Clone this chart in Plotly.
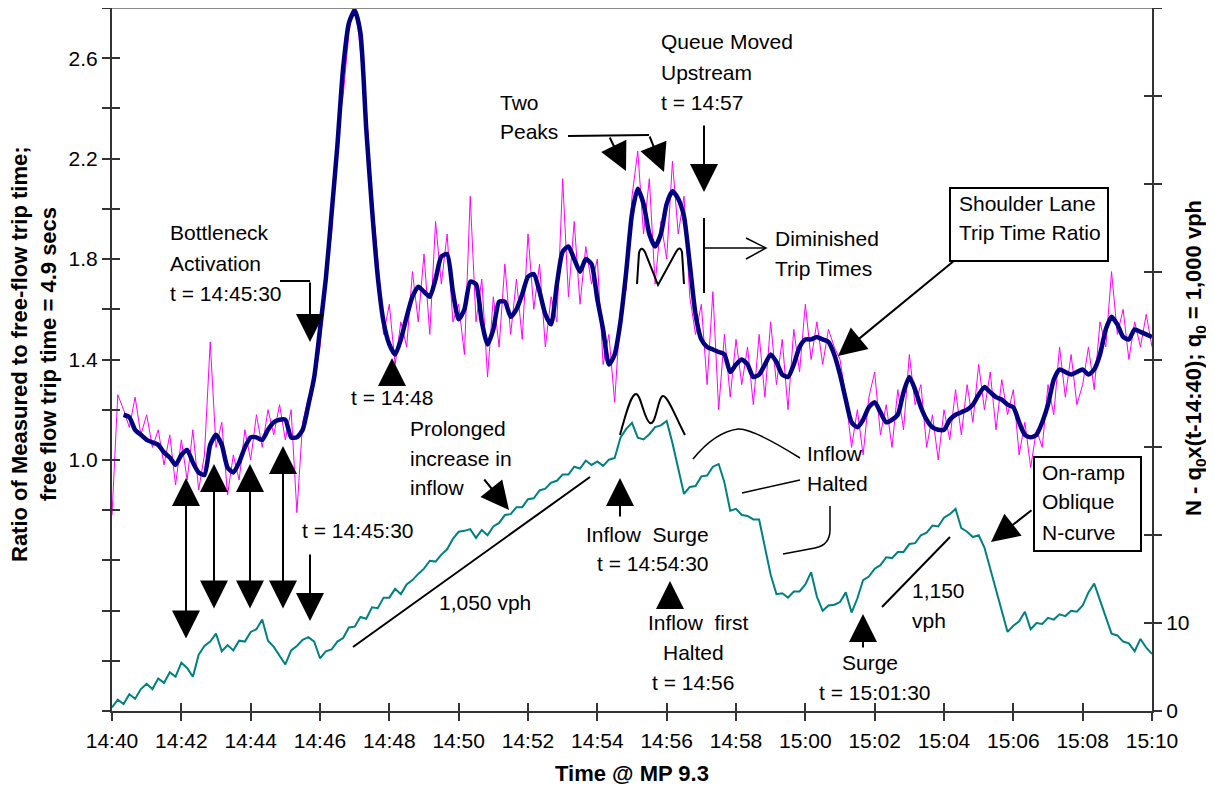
import pandas as pd
import plotly.graph_objects as go

# samples every 10 s from 14:40:00 to 15:10:00
times = pd.date_range("2000-01-01 14:40:00", "2000-01-01 15:10:00", freq="10s")

# shoulder lane trip time ratio, raw (thin magenta)
raw_ratio = [
    0.78, 1.26, 1.20, 1.13, 1.25, 1.10,
    1.18, 1.05, 1.12, 0.98, 1.10, 0.90,
    1.08, 0.92, 1.12, 0.88, 1.02, 1.47,
    1.05, 1.15, 0.86, 1.02, 0.92, 1.12,
    1.00, 1.18, 1.05, 1.20, 1.10, 1.22,
    1.08, 1.20, 0.79, 1.15, 1.25, 1.30,
    1.45, 1.72, 1.90, 2.30, 2.45, 2.70,
    2.85, 2.62, 2.40, 2.05, 1.80, 1.50,
    1.62, 1.38, 1.55, 1.45, 1.75, 1.55,
    1.82, 1.50, 1.95, 1.70, 1.90, 1.55,
    1.62, 1.42, 2.05, 1.55, 1.72, 1.33,
    1.65, 1.45, 1.78, 1.50, 1.72, 1.48,
    1.90, 1.60, 1.78, 1.45, 1.65, 1.55,
    2.12, 1.65, 1.95, 1.62, 1.85, 1.70,
    1.80, 1.38, 1.50, 1.23, 1.60, 1.68,
    2.05, 2.23, 1.90, 2.12, 1.70, 1.95,
    1.80, 2.19, 1.90, 2.05, 1.65, 1.50,
    1.62, 1.30, 1.67, 1.20, 1.50, 1.25,
    1.48, 1.30, 1.45, 1.22, 1.50, 1.25,
    1.55, 1.30, 1.48, 1.20, 1.52, 1.35,
    1.62, 1.40, 1.55, 1.38, 1.52, 1.45,
    1.40, 1.25, 1.05, 1.20, 1.02, 1.25,
    1.35, 1.10, 1.22, 1.05, 1.28, 1.12,
    1.42, 1.22, 1.30, 1.05, 1.18, 1.00,
    1.20, 1.08, 1.28, 1.10, 1.30, 1.15,
    1.38, 1.20, 1.35, 1.12, 1.32, 1.18,
    1.28, 1.02, 1.15, 0.97, 1.12, 1.05,
    1.30, 1.18, 1.45, 1.25, 1.42, 1.22,
    1.30, 1.45, 1.28, 1.55, 1.45, 1.75,
    1.50, 1.60, 1.40, 1.55, 1.45, 1.58,
    1.45,
]

# moving average of the ratio (thick navy)
smooth_ratio = [
    None, None, 1.18, 1.17, 1.12, 1.10,
    1.08, 1.07, 1.06, 1.03, 1.01, 0.98,
    1.02, 1.04, 0.99, 0.95, 0.94, 1.06,
    1.10, 1.06, 0.97, 0.95, 0.99, 1.05,
    1.09, 1.09, 1.08, 1.12, 1.15, 1.16,
    1.16, 1.09, 1.09, 1.12, 1.22, 1.33,
    1.52, 1.72, 1.98, 2.25, 2.56, 2.74,
    2.79, 2.70, 2.32, 2.00, 1.73, 1.55,
    1.46, 1.42, 1.48, 1.57, 1.65, 1.69,
    1.67, 1.65, 1.72, 1.81, 1.82, 1.67,
    1.56, 1.60, 1.71, 1.70, 1.55, 1.46,
    1.52, 1.63, 1.63, 1.57, 1.60, 1.66,
    1.73, 1.74, 1.67, 1.58, 1.54, 1.70,
    1.83, 1.85, 1.80, 1.75, 1.80, 1.78,
    1.64, 1.52, 1.38, 1.42, 1.55, 1.75,
    1.98, 2.08, 2.02, 1.90, 1.85, 1.90,
    2.02, 2.07, 2.04, 1.97, 1.78, 1.58,
    1.48, 1.45, 1.44, 1.43, 1.42, 1.35,
    1.38, 1.40, 1.38, 1.33, 1.34, 1.38,
    1.42, 1.39, 1.34, 1.33, 1.38, 1.45,
    1.48, 1.48, 1.49, 1.48, 1.47, 1.42,
    1.34, 1.24, 1.15, 1.13, 1.16, 1.21,
    1.23, 1.19, 1.15, 1.16, 1.18, 1.27,
    1.33, 1.28, 1.21, 1.16, 1.13, 1.12,
    1.12, 1.16, 1.18, 1.19, 1.20, 1.22,
    1.26, 1.29, 1.27, 1.25, 1.24, 1.22,
    1.21, 1.15, 1.10, 1.09, 1.10, 1.15,
    1.22, 1.32, 1.36, 1.35, 1.34, 1.35,
    1.36, 1.34, 1.36, 1.42, 1.52, 1.57,
    1.54, 1.49, 1.48, 1.52, 1.51, 1.50,
    1.49,
]

# on-ramp oblique N-curve, N - q0*(t-14:40) (teal, right axis)
oblique_n = [
    0.4, 1.3, 0.8, 1.9, 1.4, 2.5,
    3.1, 2.5, 3.7, 3.2, 4.4, 3.9,
    5.5, 4.9, 3.9, 6.4, 7.4, 7.9,
    8.8, 6.8, 7.5, 6.9, 8.0, 7.9,
    9.0, 9.3, 10.4, 8.0, 7.3, 6.3,
    5.3, 6.9, 7.4, 8.1, 8.4, 7.9,
    6.0, 6.8, 7.0, 7.9, 8.3, 9.5,
    9.6, 10.7, 10.5, 11.8, 11.7, 12.9,
    12.9, 13.9, 13.3, 14.4, 14.9, 15.6,
    16.2, 17.1, 17.0, 17.8, 18.4, 19.6,
    20.4, 20.5, 20.7, 19.7, 20.6, 20.0,
    21.0, 21.4, 22.3, 22.4, 23.2, 23.2,
    24.1, 24.2, 25.1, 25.3, 26.0, 26.2,
    26.9, 26.9, 27.8, 27.6, 28.5, 28.0,
    28.4, 27.9, 28.6, 28.8, 31.1, 32.1,
    32.8, 31.1, 30.9, 31.5, 32.3, 32.5,
    33.0, 30.5, 27.5, 24.7, 25.5, 25.6,
    26.7, 26.8, 27.8, 28.1, 26.0, 22.8,
    23.0, 22.3, 22.2, 21.8, 21.8, 18.5,
    15.5, 13.3, 13.4, 12.9, 13.6, 13.6,
    14.4, 15.8, 13.0, 11.4, 12.0, 12.1,
    12.4, 13.5, 11.2, 12.8, 14.9, 15.3,
    16.2, 16.6, 17.5, 17.4, 18.1, 18.1,
    19.0, 19.1, 20.0, 20.3, 21.1, 21.0,
    22.0, 22.4, 23.0, 20.8, 20.4, 19.8,
    20.0, 18.6, 16.2, 14.0, 11.5, 9.0,
    9.7, 10.2, 11.3, 9.3, 10.0, 9.9,
    10.6, 10.4, 11.0, 10.8, 11.4, 11.3,
    12.0, 13.5, 14.5, 12.6, 10.6, 8.8,
    8.6, 7.9, 7.7, 6.8, 8.2, 7.2,
    6.5,
]

left_tickvals = [0.0, 0.2, 0.4, 0.6, 0.8, 1.0, 1.2, 1.4, 1.6, 1.8, 2.0, 2.2, 2.4, 2.6, 2.8]
left_ticktext = ["", "", "", "", "", "1.0", "", "1.4", "", "1.8", "", "2.2", "", "2.6", ""]
right_tickvals = [0, 10, 20, 30, 40, 50, 60, 70, 80]
right_ticktext = ["0", "10", "", "", "", "", "", "", ""]

FONT = "Liberation Sans, Arial, sans-serif"
AXIS = "#333333"

# the page body has an 8px margin; plot area wanted at x 112..1152, y 8..711 on the page
OFF = 8
L, R, T, B = 112, 1152, 8, 711


def fx(x):
    return (x - L) / (R - L)


def fy(y):
    return (B - y) / (B - T)


annotations = []
shapes = []


def label(x, y, lines, anchor="left", step=30):
    for i, s in enumerate(lines):
        annotations.append(dict(x=fx(x), y=fy(y + i * step), xref="paper", yref="paper",
                                text=s, showarrow=False, xanchor=anchor, yanchor="middle",
                                font=dict(size=21)))


def arrow(x0, y0, x1, y1, both=False, head=2, size=2.8, width=2):
    a = dict(x=fx(x1), y=fy(y1), xref="paper", yref="paper", ax=x0 - x1, ay=y0 - y1,
             text="", showarrow=True, arrowhead=head, arrowsize=size, arrowwidth=width,
             arrowcolor="black")
    if both:
        a.update(arrowside="end+start", startarrowhead=head, startarrowsize=size)
    annotations.append(a)


def seg(x0, y0, x1, y1, width=2):
    shapes.append(dict(type="line", xref="paper", yref="paper", x0=fx(x0), y0=fy(y0),
                       x1=fx(x1), y1=fy(y1), line=dict(color="black", width=width)))


def curve(cmds, width=2):
    parts = []
    for cmd, *p in cmds:
        parts.append(cmd + " ".join(f"{fx(p[i]):.5f},{fy(p[i + 1]):.5f}" for i in range(0, len(p), 2)))
    shapes.append(dict(type="path", xref="paper", yref="paper", path=" ".join(parts),
                       line=dict(color="black", width=width)))


def box(x0, y0, x1, y1):
    shapes.append(dict(type="rect", xref="paper", yref="paper", x0=fx(x0), y0=fy(y0),
                       x1=fx(x1), y1=fy(y1), fillcolor="white", line=dict(color="black", width=2)))


def title(x, y, text, angle=0):
    annotations.append(dict(x=fx(x), y=fy(y), xref="paper", yref="paper", textangle=angle,
                            text="<b>" + text + "</b>", showarrow=False,
                            xanchor="center", yanchor="middle", font=dict(size=22)))


# top frame line
shapes.append(dict(type="line", xref="paper", yref="paper", x0=0, y0=1, x1=1, y1=1,
                   line=dict(color="#8a8a8a", width=2)))

# bottleneck activation
label(168, 233, ["Bottleneck", "Activation", "t = 14:45:30"])
seg(280, 281, 310, 281)
arrow(310, 281, 310, 342)
label(392, 397, ["t = 14:48"], anchor="center")
arrow(392, 384, 392, 358)

# linked arrows between the two curves
arrow(186, 640, 186, 478, both=True)
arrow(214, 610, 214, 464, both=True)
arrow(250, 610, 250, 464, both=True)
arrow(283, 610, 283, 446, both=True)
arrow(310, 553, 310, 621)
label(358, 530, ["t = 14:45:30"], anchor="center")

label(408, 428, ["Prolonged", "increase in", "inflow"])
arrow(483, 478, 509, 510)
seg(353, 647, 590, 477)
label(485, 602, ["1,050 vph"], anchor="center")

# two peaks
label(498, 102, ["Two", "Peaks"])
seg(568, 136, 649, 135)
arrow(609, 136, 626, 171)
arrow(649, 135, 664, 172)
curve([("M", 637, 284), ("L", 639, 253), ("Q", 641, 245, 645, 252), ("L", 658, 285),
       ("L", 676, 252), ("Q", 680, 245, 682, 252), ("L", 684, 284)])
curve([("M", 620, 435), ("C", 628, 405, 632, 394, 636, 394), ("C", 641, 394, 644, 420, 650, 423),
       ("C", 656, 426, 658, 396, 663, 396), ("C", 668, 396, 676, 418, 685, 435)])

# queue moved upstream
label(659, 42, ["Queue Moved", "Upstream", "t = 14:57"])
arrow(704, 124, 704, 192)
seg(704, 218, 704, 293)
seg(704, 248, 765, 248, width=1.5)
curve([("M", 746, 238), ("L", 766, 248), ("L", 746, 259)], width=1.5)
label(773, 238, ["Diminished", "Trip Times"])

# shoulder lane box
box(950, 188, 1108, 261)
label(957, 203, ["Shoulder Lane", "Trip Time Ratio"])
arrow(955, 260, 838, 356)

# inflow surge / halted
arrow(620, 518, 620, 478)
label(647, 534, ["Inflow&nbsp;&nbsp;Surge"], anchor="center")
label(653, 563, ["t = 14:54:30"], anchor="center")
arrow(670, 607, 670, 581)
label(698, 622, ["Inflow&nbsp;&nbsp;first"], anchor="center")
label(693, 652, ["Halted", "t = 14:56"], anchor="center")
label(805, 453, ["Inflow", "Halted"])
curve([("M", 693, 459), ("Q", 715, 432, 738, 429), ("Q", 752, 428, 800, 458)], width=1.5)
seg(742, 493, 800, 480, width=1.5)
curve([("M", 783, 554), ("L", 815, 548), ("Q", 830, 545, 830, 530), ("L", 830, 506)], width=1.5)

# surge 15:01:30
arrow(863, 649, 863, 614)
label(870, 662, ["Surge"], anchor="center")
label(875, 692, ["t = 15:01:30"], anchor="center")
seg(882, 607, 950, 537)
label(910, 590, ["1,150", "vph"])

# on-ramp box
box(1034, 457, 1141, 551)
label(1040, 472, ["On-ramp", "Oblique", "N-curve"])
arrow(1033, 509, 991, 542)

# axis titles
title(19, 354, "Ratio of Measured to free-flow trip time;", -90)
title(48, 354, "free flow trip time = 4.9 secs", -90)
title(1195, 358, "N - q<sub>0</sub>x(t-14:40); q<sub>0</sub> = 1,000 vph", -90)
title(632, 773, "Time @ MP 9.3")

fig = go.Figure()
fig.add_trace(go.Scatter(x=times, y=raw_ratio, mode="lines", line=dict(color="#FF00FF", width=1),
                         showlegend=False, hoverinfo="skip"))
fig.add_trace(go.Scatter(x=times, y=smooth_ratio, mode="lines",
                         line=dict(color="#000080", width=4.5, shape="spline", smoothing=0.6),
                         showlegend=False))
fig.add_trace(go.Scatter(x=times, y=oblique_n, mode="lines", yaxis="y2",
                         line=dict(color="#008080", width=2), showlegend=False))
# empty traces so the inner tick axes get drawn
fig.add_trace(go.Scatter(x=[], y=[], xaxis="x2", yaxis="y3", showlegend=False))
fig.add_trace(go.Scatter(x=[], y=[], xaxis="x2", yaxis="y4", showlegend=False))

xrange = [times[0], times[-1]]
tick_common = dict(ticklen=8, tickwidth=2, tickcolor=AXIS, showgrid=False, zeroline=False)

fig.update_layout(
    width=1214, height=786,
    margin=dict(l=L - OFF, r=1214 + OFF - R, t=T - OFF, b=786 + OFF - B),
    paper_bgcolor="white", plot_bgcolor="white",
    font=dict(family=FONT, color="black", size=21),
    xaxis=dict(type="date", range=xrange, tick0=times[0], dtick=120000, tickformat="%H:%M",
               ticks="outside", showline=True, linecolor=AXIS, linewidth=2,
               tickfont=dict(size=21), ticklabelstandoff=2, **tick_common),
    xaxis2=dict(type="date", range=xrange, tick0=times[0], dtick=120000, overlaying="x",
                anchor="y", side="bottom", ticks="inside", showticklabels=False,
                showline=False, **tick_common),
    yaxis=dict(range=[0, 2.8], tickmode="array", tickvals=left_tickvals, ticktext=left_ticktext,
               ticks="outside", showline=True, linecolor=AXIS, linewidth=2,
               tickfont=dict(size=21), **tick_common),
    yaxis2=dict(range=[0, 80], overlaying="y", side="right", anchor="x", tickmode="array",
                tickvals=right_tickvals, ticktext=right_ticktext, ticks="outside",
                showline=True, linecolor=AXIS, linewidth=2, tickfont=dict(size=21), **tick_common),
    yaxis3=dict(range=[0, 2.8], overlaying="y", side="left", anchor="x", tickmode="array",
                tickvals=left_tickvals, ticks="inside", showticklabels=False, showline=False,
                **tick_common),
    yaxis4=dict(range=[0, 80], overlaying="y", side="right", anchor="x", tickmode="array",
                tickvals=right_tickvals, ticks="inside", showticklabels=False, showline=False,
                **tick_common),
    annotations=annotations,
    shapes=shapes,
)

fig.write_html("out.html")
